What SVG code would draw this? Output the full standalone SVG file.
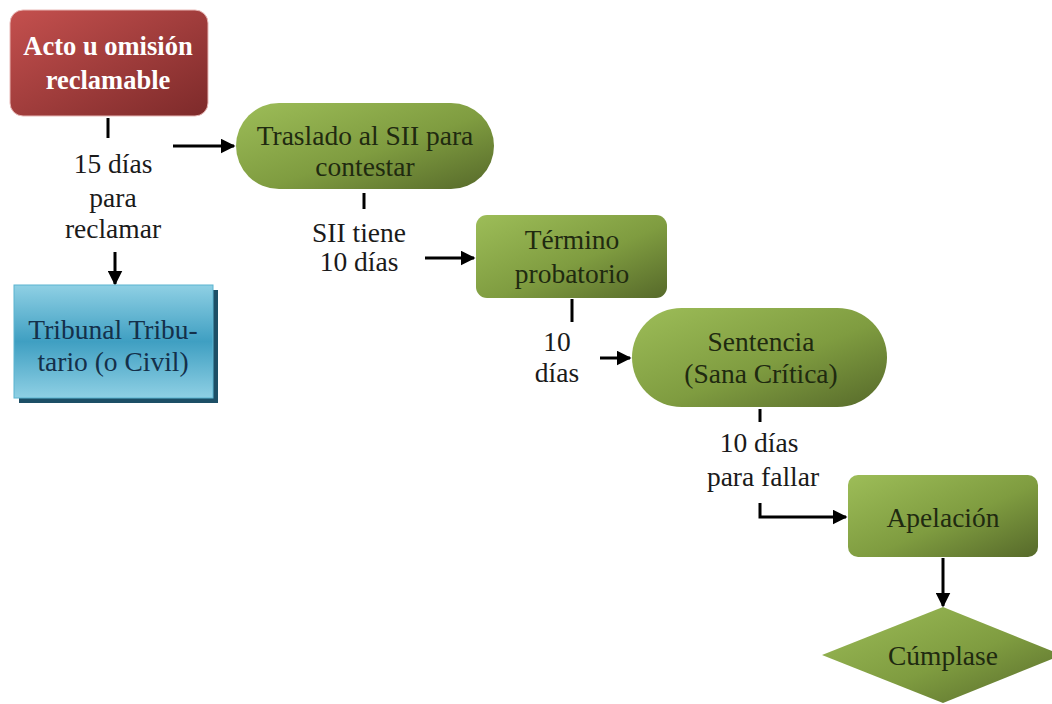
<svg xmlns="http://www.w3.org/2000/svg" width="1052" height="704" viewBox="0 0 1052 704">
<defs>
<linearGradient id="gRed" x1="0" y1="0" x2="1" y2="1">
<stop offset="0" stop-color="#c4504e"/><stop offset="1" stop-color="#7d2a2a"/>
</linearGradient>
<linearGradient id="gGreen" x1="0" y1="0" x2="1" y2="1">
<stop offset="0" stop-color="#9dbd58"/><stop offset="0.55" stop-color="#7f9c40"/><stop offset="1" stop-color="#56692a"/>
</linearGradient>
<linearGradient id="gBlue" x1="0" y1="0" x2="0" y2="1">
<stop offset="0" stop-color="#8fd0e4"/><stop offset="0.5" stop-color="#3f9fc2"/><stop offset="1" stop-color="#8fd0e4"/>
</linearGradient>
<marker id="ah" viewBox="0 0 10 10" refX="9" refY="5" markerWidth="5" markerHeight="5" orient="auto" markerUnits="strokeWidth">
<path d="M0,0 L10,5 L0,10 Z" fill="#000"/>
</marker>
</defs>
<style>
text{font-family:"Liberation Serif","DejaVu Serif","Times New Roman",serif;font-size:27.5px;text-anchor:middle}
.t{fill:#1a1a1a}
.w{font-size:26.5px;font-weight:bold;fill:#fff}
.n{fill:#1f2a10}
.b{fill:#14304a}
.c{stroke:#000;stroke-width:3;fill:none}
.a{stroke:#000;stroke-width:3;fill:none;marker-end:url(#ah)}
</style>
<rect width="1052" height="704" fill="#fff"/>
<g id="connectors">
<line class="c" x1="108" y1="118" x2="108" y2="138"/>
<line class="a" x1="173" y1="146" x2="234" y2="146"/>
<line class="a" x1="115" y1="252" x2="115" y2="284"/>
<line class="c" x1="364" y1="193" x2="364" y2="209"/>
<line class="a" x1="425" y1="258" x2="474" y2="258"/>
<line class="c" x1="572" y1="299" x2="572" y2="322"/>
<line class="a" x1="600" y1="358" x2="630" y2="358"/>
<line class="c" x1="760" y1="409" x2="760" y2="422"/>
<polyline class="a" points="760,503 760,517 846,517"/>
<line class="a" x1="943" y1="558" x2="943" y2="606"/>
<text class="t" x="113" y="173">15 días</text>
<text class="t" x="113" y="207">para</text>
<text class="t" x="113" y="238">reclamar</text>
<text class="t" x="359" y="242">SII tiene</text>
<text class="t" x="359" y="271">10 días</text>
<text class="t" x="557" y="351">10</text>
<text class="t" x="557" y="382">días</text>
<text class="t" x="759" y="452">10 días</text>
<text class="t" x="763" y="486">para fallar</text>
</g>
<g id="acto">
<rect x="10" y="10" width="198" height="106" rx="13" fill="url(#gRed)" stroke="#e8b8b6" stroke-width="1"/>
<text class="w" x="108" y="55">Acto u omisión</text>
<text class="w" x="108" y="89">reclamable</text>
</g>
<g id="tribunal">
<rect x="19" y="290" width="199" height="113" fill="#1d4f66"/>
<rect x="14" y="285" width="199" height="113" fill="url(#gBlue)" stroke="#5ab4d0" stroke-width="1"/>
<text class="b" x="113" y="339">Tribunal Tribu-</text>
<text class="b" x="113" y="371">tario (o Civil)</text>
</g>
<g id="traslado">
<rect x="236" y="103" width="258" height="86" rx="43" fill="url(#gGreen)"/>
<text class="n" x="365" y="145">Traslado al SII para</text>
<text class="n" x="365" y="176">contestar</text>
</g>
<g id="termino">
<rect x="476" y="215" width="191" height="83" rx="11" fill="url(#gGreen)"/>
<text class="n" x="572" y="249">Término</text>
<text class="n" x="572" y="283">probatorio</text>
</g>
<g id="sentencia">
<rect x="632" y="308" width="255" height="99" rx="49.5" fill="url(#gGreen)"/>
<text class="n" x="761" y="351">Sentencia</text>
<text class="n" x="761" y="383">(Sana Crítica)</text>
</g>
<g id="apelacion">
<rect x="848" y="475" width="190" height="82" rx="10" fill="url(#gGreen)"/>
<text class="n" x="943" y="527">Apelación</text>
</g>
<g id="cumplase">
<polygon points="943,607 1062,655 943,703 822,655" fill="url(#gGreen)"/>
<text class="n" x="943" y="665">Cúmplase</text>
</g>
</svg>
